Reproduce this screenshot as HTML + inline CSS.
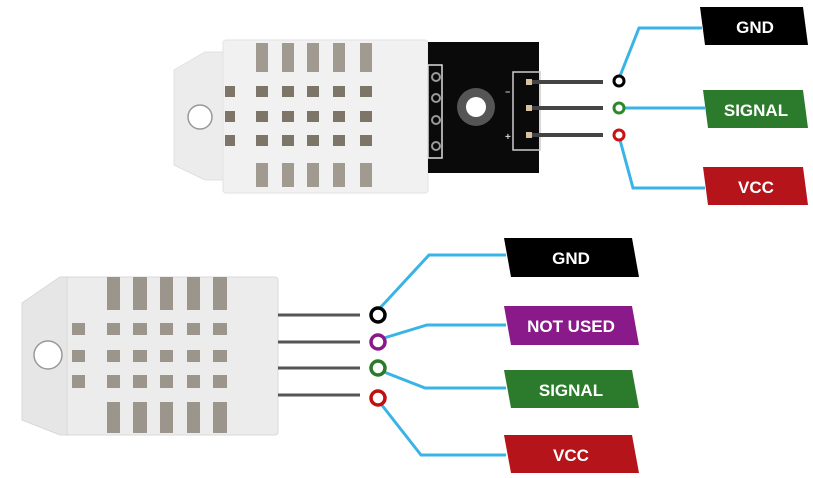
<!DOCTYPE html>
<html><head><meta charset="utf-8"><style>
html,body{margin:0;padding:0;background:#fff;}
svg{display:block}
text{font-family:"Liberation Sans",sans-serif;font-weight:bold;fill:#fff;}
</style></head><body>
<svg width="813" height="478" viewBox="0 0 813 478" xmlns="http://www.w3.org/2000/svg">
<rect width="813" height="478" fill="#fff"/>
<!-- TOP SENSOR -->
<path d="M174 70 L205 52 L223 52 L223 180 L205 180 L174 165 Z" fill="#ececec" stroke="#e0e0e0"/>
<rect x="223" y="40" width="205" height="153" rx="3" fill="#f1f1f1" stroke="#e2e2e2"/>
<circle cx="200" cy="117" r="12" fill="#fff" stroke="#999" stroke-width="1.5"/>
<g fill="#a09a90">
<rect x="256" y="43" width="12" height="29"/><rect x="282" y="43" width="12" height="29"/><rect x="307" y="43" width="12" height="29"/><rect x="333" y="43" width="12" height="29"/><rect x="360" y="43" width="12" height="29"/>
<rect x="256" y="163" width="12" height="24"/><rect x="282" y="163" width="12" height="24"/><rect x="307" y="163" width="12" height="24"/><rect x="333" y="163" width="12" height="24"/><rect x="360" y="163" width="12" height="24"/>
</g>
<g fill="#7d7568">
<rect x="256" y="86" width="12" height="11"/><rect x="282" y="86" width="12" height="11"/><rect x="307" y="86" width="12" height="11"/><rect x="333" y="86" width="12" height="11"/><rect x="360" y="86" width="12" height="11"/>
<rect x="256" y="111" width="12" height="11"/><rect x="282" y="111" width="12" height="11"/><rect x="307" y="111" width="12" height="11"/><rect x="333" y="111" width="12" height="11"/><rect x="360" y="111" width="12" height="11"/>
<rect x="256" y="135" width="12" height="11"/><rect x="282" y="135" width="12" height="11"/><rect x="307" y="135" width="12" height="11"/><rect x="333" y="135" width="12" height="11"/><rect x="360" y="135" width="12" height="11"/>
<rect x="225" y="86" width="10" height="11"/><rect x="225" y="111" width="10" height="11"/><rect x="225" y="135" width="10" height="11"/>
</g>
<!-- PCB -->
<rect x="428" y="42" width="111" height="131" fill="#0a0a0a"/>
<rect x="428" y="65" width="14" height="93" fill="none" stroke="#ddd" stroke-width="1.5"/>
<g fill="none" stroke="#999" stroke-width="2"><circle cx="436" cy="77" r="4"/><circle cx="436" cy="98" r="4"/><circle cx="436" cy="120" r="4"/><circle cx="436" cy="146" r="4"/></g>
<circle cx="476" cy="107" r="19" fill="#555"/>
<circle cx="476" cy="107" r="10" fill="#fff"/>
<rect x="513" y="72" width="27" height="78" fill="none" stroke="#ccc" stroke-width="1.5"/>
<g stroke="#444" stroke-width="4"><line x1="528" y1="82" x2="603" y2="82"/><line x1="528" y1="108" x2="603" y2="108"/><line x1="528" y1="135" x2="603" y2="135"/></g>
<g fill="#d8c0a0"><rect x="526" y="79" width="6" height="6"/><rect x="526" y="105" width="6" height="6"/><rect x="526" y="132" width="6" height="6"/></g>
<text x="505" y="95" font-size="9" style="fill:#ccc">−</text>
<text x="505" y="140" font-size="10" style="fill:#ccc">+</text>
<!-- top connectors -->
<g fill="none" stroke="#3ab4e6" stroke-width="3">
<polyline points="620,76 639,28 702,28"/>
<polyline points="624,108 705,108"/>
<polyline points="620,140 633,188 705,188"/>
</g>
<g fill="#fff" stroke-width="3"><circle cx="619" cy="81" r="5" stroke="#000"/><circle cx="619" cy="108" r="5" stroke="#2a8a2a"/><circle cx="619" cy="135" r="5" stroke="#cc1111"/></g>
<polygon points="700,7 803,7 808,45 705,45" fill="#000"/>
<polygon points="703,90 803,90 808,128 708,128" fill="#2c7a2c"/>
<polygon points="703,167 803,167 808,205 708,205" fill="#b5141a"/>
<text x="755" y="33" font-size="17" text-anchor="middle">GND</text>
<text x="756" y="116" font-size="17" text-anchor="middle">SIGNAL</text>
<text x="756" y="193" font-size="17" text-anchor="middle">VCC</text>
<!-- BOTTOM SENSOR -->
<path d="M22 303 L60 277 L70 277 L70 435 L60 435 L22 420 Z" fill="#e6e6e6" stroke="#d8d8d8"/>
<rect x="67" y="277" width="211" height="158" rx="3" fill="#ececec" stroke="#dadada"/>
<circle cx="48" cy="355" r="14" fill="#fff" stroke="#999" stroke-width="1.5"/>
<g fill="#9b958c">
<rect x="107" y="277" width="13" height="33"/><rect x="133" y="277" width="14" height="33"/><rect x="160" y="277" width="13" height="33"/><rect x="187" y="277" width="13" height="33"/><rect x="213" y="277" width="14" height="33"/>
<rect x="107" y="402" width="13" height="31"/><rect x="133" y="402" width="14" height="31"/><rect x="160" y="402" width="13" height="31"/><rect x="187" y="402" width="13" height="31"/><rect x="213" y="402" width="14" height="31"/>
<rect x="107" y="323" width="13" height="12"/><rect x="133" y="323" width="14" height="12"/><rect x="160" y="323" width="13" height="12"/><rect x="187" y="323" width="13" height="12"/><rect x="213" y="323" width="14" height="12"/>
<rect x="107" y="350" width="13" height="12"/><rect x="133" y="350" width="14" height="12"/><rect x="160" y="350" width="13" height="12"/><rect x="187" y="350" width="13" height="12"/><rect x="213" y="350" width="14" height="12"/>
<rect x="107" y="375" width="13" height="13"/><rect x="133" y="375" width="14" height="13"/><rect x="160" y="375" width="13" height="13"/><rect x="187" y="375" width="13" height="13"/><rect x="213" y="375" width="14" height="13"/>
<rect x="72" y="323" width="13" height="12"/><rect x="72" y="350" width="13" height="12"/><rect x="72" y="375" width="13" height="13"/>
</g>
<g stroke="#555" stroke-width="3"><line x1="278" y1="315" x2="360" y2="315"/><line x1="278" y1="342" x2="360" y2="342"/><line x1="278" y1="368" x2="360" y2="368"/><line x1="278" y1="395" x2="360" y2="395"/></g>
<g fill="none" stroke="#3ab4e6" stroke-width="3">
<polyline points="380,308 429,255 506,255"/>
<polyline points="384,338 427,325 506,325"/>
<polyline points="384,372 425,388 506,388"/>
<polyline points="381,404 421,455 506,455"/>
</g>
<g fill="#fff" stroke-width="3.5"><circle cx="378" cy="315" r="7" stroke="#000"/><circle cx="378" cy="342" r="7" stroke="#8a1a8a"/><circle cx="378" cy="368" r="7" stroke="#2a7a2a"/><circle cx="378" cy="398" r="7" stroke="#c21010"/></g>
<polygon points="504,238 632,238 639,277 511,277" fill="#000"/>
<polygon points="504,306 632,306 639,345 511,345" fill="#8a1a8a"/>
<polygon points="504,370 632,370 639,408 511,408" fill="#2c7a2c"/>
<polygon points="504,435 632,435 639,473 511,473" fill="#b5141a"/>
<text x="571" y="264" font-size="17" text-anchor="middle">GND</text>
<text x="571" y="332" font-size="17" text-anchor="middle">NOT USED</text>
<text x="571" y="396" font-size="17" text-anchor="middle">SIGNAL</text>
<text x="571" y="461" font-size="17" text-anchor="middle">VCC</text>
</svg>
</body></html>
